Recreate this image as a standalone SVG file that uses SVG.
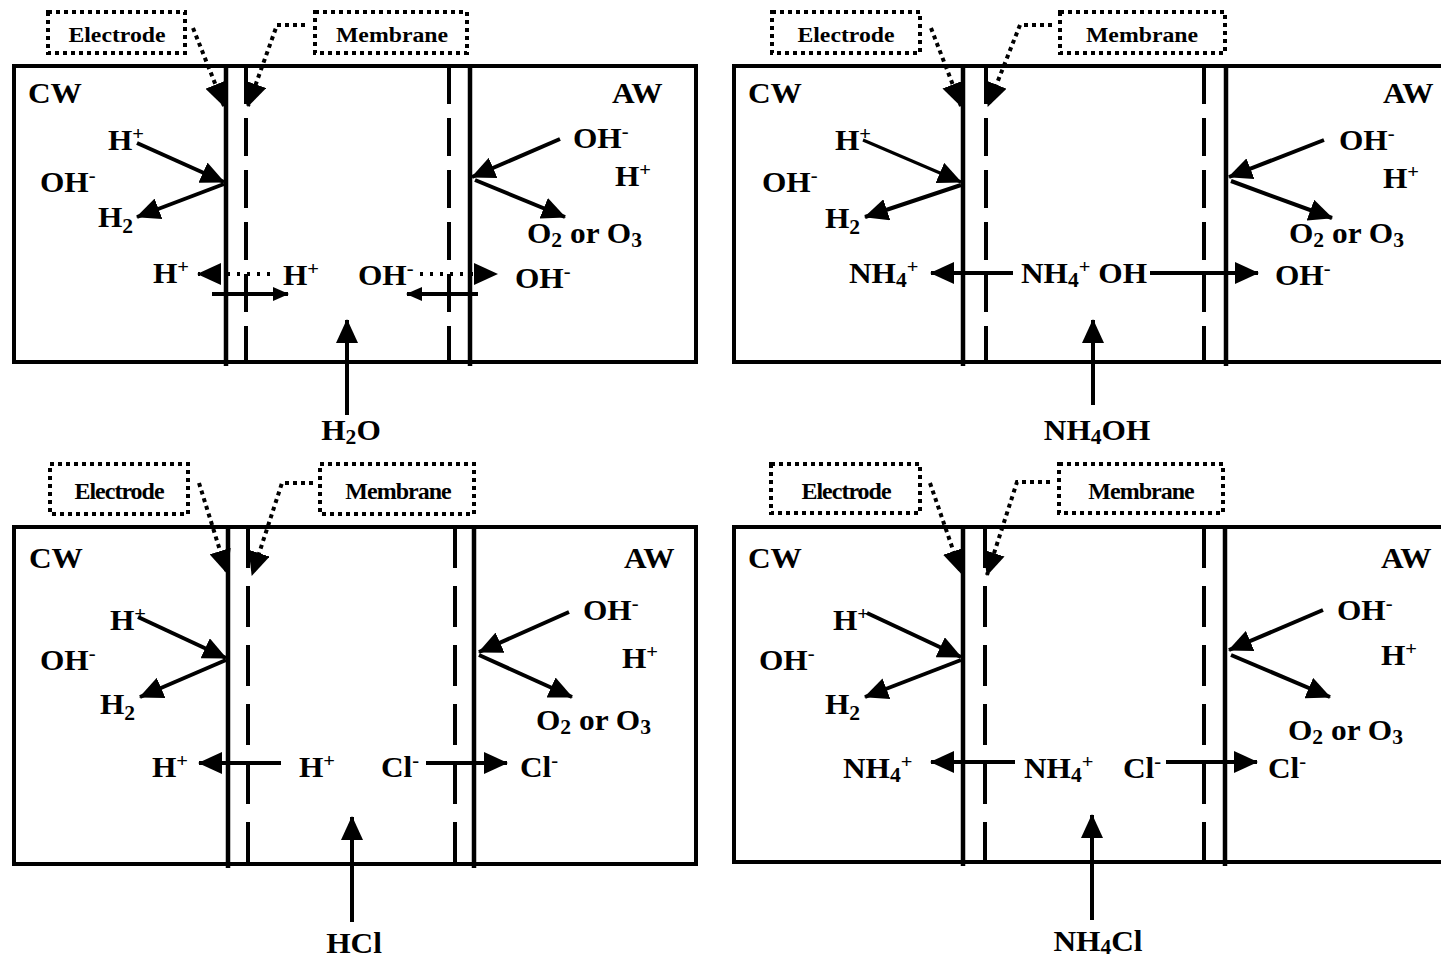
<svg xmlns="http://www.w3.org/2000/svg" width="1441" height="960" viewBox="0 0 1441 960">
<style>
.t{font-family:"Liberation Serif","Times New Roman",serif;font-weight:bold;font-size:29px;fill:#000}
.bx{font-size:22px}
.bx2{font-size:24px;letter-spacing:-1px}
.sp{font-size:19px}
.sb{font-size:20px}
.frame{fill:none;stroke:#000;stroke-width:4}
.el{stroke:#000;stroke-width:4.5}
.mt{stroke:#000;stroke-width:4;stroke-dasharray:38 14}
.mb{stroke:#000;stroke-width:4;stroke-dasharray:41 18}
.box{fill:#fff;stroke:#000;stroke-width:4;stroke-dasharray:4 4}
.ptr{fill:none;stroke:#000;stroke-width:4;stroke-dasharray:4 4;marker-end:url(#ah)}
.ar{fill:none;stroke:#000;stroke-width:4;marker-end:url(#ah)}
.thin{stroke-width:3}
.dot{fill:none;stroke:#000;stroke-width:4;stroke-dasharray:3 7;marker-end:url(#ah)}
.ars{fill:none;stroke:#000;stroke-width:4;marker-end:url(#as)}
</style>
<defs>
<marker id="ah" markerUnits="userSpaceOnUse" markerWidth="24" markerHeight="22" viewBox="0 0 24 22" refX="23" refY="11" orient="auto"><path d="M0,0 L24,11 L0,22 z" fill="#000"/></marker>
<marker id="as" markerUnits="userSpaceOnUse" markerWidth="16" markerHeight="14" viewBox="0 0 16 14" refX="15" refY="7" orient="auto"><path d="M0,0 L16,7 L0,14 z" fill="#000"/></marker>
</defs>
<rect width="1441" height="960" fill="#fff"/>

<!-- Panel 1: H2O -->
<g id="p1">
<g id="p1-cell">
<rect class="frame" x="14" y="66" width="682" height="296"/>
<line class="el" x1="226" y1="66" x2="226" y2="366"/>
<line class="mt" x1="246" y1="66" x2="246" y2="364"/>
<line class="mt" x1="449" y1="66" x2="449" y2="364"/>
<line class="el" x1="470" y1="66" x2="470" y2="366"/>
</g>
<g id="p1-electrode-box"><rect class="box" x="48" y="12" width="137" height="41"/><text class="t bx" text-anchor="middle" transform="translate(117 42) scale(1.08 1)">Electrode</text></g>
<g id="p1-membrane-box"><rect class="box" x="315" y="12" width="152" height="41"/><text class="t bx" text-anchor="middle" transform="translate(392 42) scale(1.08 1)">Membrane</text></g>
<g id="p1-labels">
<text class="t" transform="translate(28 103) scale(1.08 1)">CW</text>
<text class="t" transform="translate(612 103) scale(1.08 1)">AW</text>
<text class="t" transform="translate(108 150) scale(1.08 1)">H<tspan class="sp" dy="-10">+</tspan></text>
<text class="t" transform="translate(40 192) scale(1.08 1)">OH<tspan class="sp" dy="-10">-</tspan></text>
<text class="t" transform="translate(98 227) scale(1.08 1)">H<tspan class="sb" dy="6">2</tspan></text>
<text class="t" transform="translate(573 148) scale(1.08 1)">OH<tspan class="sp" dy="-10">-</tspan></text>
<text class="t" transform="translate(615 186) scale(1.08 1)">H<tspan class="sp" dy="-10">+</tspan></text>
<text class="t" transform="translate(527 243) scale(1.08 1)">O<tspan class="sb" dy="4">2</tspan><tspan dy="-4"> or O</tspan><tspan class="sb" dy="4">3</tspan></text>
<text class="t" transform="translate(153 283) scale(1.08 1)">H<tspan class="sp" dy="-10">+</tspan></text>
<text class="t" transform="translate(283 285) scale(1.08 1)">H<tspan class="sp" dy="-10">+</tspan></text>
<text class="t" transform="translate(358 285) scale(1.08 1)">OH<tspan class="sp" dy="-10">-</tspan></text>
<text class="t" transform="translate(515 288) scale(1.08 1)">OH<tspan class="sp" dy="-10">-</tspan></text>
<text class="t" text-anchor="middle" transform="translate(351 440) scale(1.08 1)">H<tspan class="sb" dy="4">2</tspan><tspan dy="-4">O</tspan></text>
</g>
<g id="p1-connectors">
<path class="ptr" d="M193,28 L224,106"/>
<path class="ptr" d="M305,25 L277,25 L248,106"/>
<path class="ar" d="M137,143 L224,182"/>
<path class="ar" d="M224,184 L137,217"/>
<path class="ar" d="M560,139 L472,177"/>
<path class="ar" d="M475,180 L565,217"/>
<path class="dot" d="M270,274 L198,274"/>
<path class="dot" d="M420,274 L497,274"/>
<path class="ars" d="M212,294 L288,294"/>
<path class="ars" d="M478,294 L407,294"/>
<path class="ar" d="M347,415 L347,320"/>
</g>
</g>

<!-- Panel 2: NH4OH -->
<g id="p2">
<g id="p2-cell">
<path class="frame" d="M1445,66 H734 V362 H1445"/>
<line class="el" x1="963" y1="66" x2="963" y2="366"/>
<line class="mt" x1="986" y1="66" x2="986" y2="364"/>
<line class="mt" x1="1204" y1="66" x2="1204" y2="364"/>
<line class="el" x1="1226" y1="66" x2="1226" y2="366"/>
</g>
<g id="p2-electrode-box"><rect class="box" x="772" y="12" width="148" height="41"/><text class="t bx" text-anchor="middle" transform="translate(846 42) scale(1.08 1)">Electrode</text></g>
<g id="p2-membrane-box"><rect class="box" x="1060" y="12" width="165" height="41"/><text class="t bx" text-anchor="middle" transform="translate(1142 42) scale(1.08 1)">Membrane</text></g>
<g id="p2-labels">
<text class="t" transform="translate(748 103) scale(1.08 1)">CW</text>
<text class="t" transform="translate(1383 103) scale(1.08 1)">AW</text>
<text class="t" transform="translate(835 150) scale(1.08 1)">H<tspan class="sp" dy="-10">+</tspan></text>
<text class="t" transform="translate(762 192) scale(1.08 1)">OH<tspan class="sp" dy="-10">-</tspan></text>
<text class="t" transform="translate(825 228) scale(1.08 1)">H<tspan class="sb" dy="6">2</tspan></text>
<text class="t" transform="translate(1339 150) scale(1.08 1)">OH<tspan class="sp" dy="-10">-</tspan></text>
<text class="t" transform="translate(1383 188) scale(1.08 1)">H<tspan class="sp" dy="-10">+</tspan></text>
<text class="t" transform="translate(1289 243) scale(1.08 1)">O<tspan class="sb" dy="4">2</tspan><tspan dy="-4"> or O</tspan><tspan class="sb" dy="4">3</tspan></text>
<text class="t" transform="translate(849 283) scale(1.08 1)">NH<tspan class="sb" dy="4">4</tspan><tspan class="sp" dy="-14">+</tspan></text>
<text class="t" transform="translate(1021 283) scale(1.08 1)">NH<tspan class="sb" dy="4">4</tspan><tspan class="sp" dy="-14">+</tspan><tspan dy="10"> OH</tspan></text>
<text class="t" transform="translate(1275 285) scale(1.08 1)">OH<tspan class="sp" dy="-10">-</tspan></text>
<text class="t" text-anchor="middle" transform="translate(1097 440) scale(1.08 1)">NH<tspan class="sb" dy="4">4</tspan><tspan dy="-4">OH</tspan></text>
</g>
<g id="p2-connectors">
<path class="ptr" d="M931,28 L961,106"/>
<path class="ptr" d="M1052,25 L1020,25 L988,106"/>
<path class="ar thin" d="M863,140 L961,182"/>
<path class="ar" d="M961,185 L865,217"/>
<path class="ar" d="M1324,140 L1229,177"/>
<path class="ar" d="M1231,181 L1332,218"/>
<path class="ar" d="M1013,273 L931,273"/>
<path class="ar" d="M1150,273 L1258,273"/>
<path class="ar" d="M1093,405 L1093,320"/>
</g>
</g>

<!-- Panel 3: HCl -->
<g id="p3">
<g id="p3-cell">
<rect class="frame" x="14" y="527" width="682" height="337"/>
<line class="el" x1="228" y1="527" x2="228" y2="868"/>
<line class="mb" x1="248" y1="527" x2="248" y2="864"/>
<line class="mb" x1="455" y1="527" x2="455" y2="864"/>
<line class="el" x1="474" y1="527" x2="474" y2="868"/>
</g>
<g id="p3-electrode-box"><rect class="box" x="50" y="464" width="138" height="50"/><text class="t bx2" text-anchor="middle" transform="translate(119 499)">Electrode</text></g>
<g id="p3-membrane-box"><rect class="box" x="320" y="464" width="154" height="50"/><text class="t bx2" text-anchor="middle" transform="translate(398 499)">Membrane</text></g>
<g id="p3-labels">
<text class="t" transform="translate(29 568) scale(1.08 1)">CW</text>
<text class="t" transform="translate(624 568) scale(1.08 1)">AW</text>
<text class="t" transform="translate(110 630) scale(1.08 1)">H<tspan class="sp" dy="-10">+</tspan></text>
<text class="t" transform="translate(40 670) scale(1.08 1)">OH<tspan class="sp" dy="-10">-</tspan></text>
<text class="t" transform="translate(100 714) scale(1.08 1)">H<tspan class="sb" dy="6">2</tspan></text>
<text class="t" transform="translate(583 620) scale(1.08 1)">OH<tspan class="sp" dy="-10">-</tspan></text>
<text class="t" transform="translate(622 668) scale(1.08 1)">H<tspan class="sp" dy="-10">+</tspan></text>
<text class="t" transform="translate(536 730) scale(1.08 1)">O<tspan class="sb" dy="4">2</tspan><tspan dy="-4"> or O</tspan><tspan class="sb" dy="4">3</tspan></text>
<text class="t" transform="translate(152 777) scale(1.08 1)">H<tspan class="sp" dy="-10">+</tspan></text>
<text class="t" transform="translate(299 777) scale(1.08 1)">H<tspan class="sp" dy="-10">+</tspan></text>
<text class="t" transform="translate(381 777) scale(1.08 1)">Cl<tspan class="sp" dy="-10">-</tspan></text>
<text class="t" transform="translate(520 777) scale(1.08 1)">Cl<tspan class="sp" dy="-10">-</tspan></text>
<text class="t" text-anchor="middle" transform="translate(354 953) scale(1.08 1)">HCl</text>
</g>
<g id="p3-connectors">
<path class="ptr" d="M199,483 L227,573"/>
<path class="ptr" d="M313,483 L282,483 L252,575"/>
<path class="ar" d="M138,617 L226,658"/>
<path class="ar" d="M226,660 L140,697"/>
<path class="ar" d="M569,612 L479,652"/>
<path class="ar" d="M479,655 L572,697"/>
<path class="ar" d="M281,763 L199,763"/>
<path class="ar" d="M426,763 L507,763"/>
<path class="ar" d="M352,922 L352,817"/>
</g>
</g>

<!-- Panel 4: NH4Cl -->
<g id="p4">
<g id="p4-cell">
<path class="frame" d="M1445,527 H734 V862 H1445"/>
<line class="el" x1="963" y1="527" x2="963" y2="866"/>
<line class="mb" x1="985" y1="527" x2="985" y2="862"/>
<line class="mb" x1="1204" y1="527" x2="1204" y2="862"/>
<line class="el" x1="1225" y1="527" x2="1225" y2="866"/>
</g>
<g id="p4-electrode-box"><rect class="box" x="771" y="464" width="149" height="49"/><text class="t bx2" text-anchor="middle" transform="translate(846 499)">Electrode</text></g>
<g id="p4-membrane-box"><rect class="box" x="1059" y="464" width="164" height="49"/><text class="t bx2" text-anchor="middle" transform="translate(1141 499)">Membrane</text></g>
<g id="p4-labels">
<text class="t" transform="translate(748 568) scale(1.08 1)">CW</text>
<text class="t" transform="translate(1381 568) scale(1.08 1)">AW</text>
<text class="t" transform="translate(833 630) scale(1.08 1)">H<tspan class="sp" dy="-10">+</tspan></text>
<text class="t" transform="translate(759 670) scale(1.08 1)">OH<tspan class="sp" dy="-10">-</tspan></text>
<text class="t" transform="translate(825 714) scale(1.08 1)">H<tspan class="sb" dy="6">2</tspan></text>
<text class="t" transform="translate(1337 620) scale(1.08 1)">OH<tspan class="sp" dy="-10">-</tspan></text>
<text class="t" transform="translate(1381 665) scale(1.08 1)">H<tspan class="sp" dy="-10">+</tspan></text>
<text class="t" transform="translate(1288 740) scale(1.08 1)">O<tspan class="sb" dy="4">2</tspan><tspan dy="-4"> or O</tspan><tspan class="sb" dy="4">3</tspan></text>
<text class="t" transform="translate(843 778) scale(1.08 1)">NH<tspan class="sb" dy="4">4</tspan><tspan class="sp" dy="-14">+</tspan></text>
<text class="t" transform="translate(1024 778) scale(1.08 1)">NH<tspan class="sb" dy="4">4</tspan><tspan class="sp" dy="-14">+</tspan></text>
<text class="t" transform="translate(1123 778) scale(1.08 1)">Cl<tspan class="sp" dy="-10">-</tspan></text>
<text class="t" transform="translate(1268 778) scale(1.08 1)">Cl<tspan class="sp" dy="-10">-</tspan></text>
<text class="t" text-anchor="middle" transform="translate(1098 951) scale(1.08 1)">NH<tspan class="sb" dy="3">4</tspan><tspan dy="-3">Cl</tspan></text>
</g>
<g id="p4-connectors">
<path class="ptr" d="M930,483 L961,573"/>
<path class="ptr" d="M1050,482 L1017,482 L987,575"/>
<path class="ar" d="M867,613 L961,657"/>
<path class="ar" d="M961,660 L865,697"/>
<path class="ar" d="M1323,610 L1229,650"/>
<path class="ar" d="M1231,655 L1330,697"/>
<path class="ar" d="M1015,762 L931,762"/>
<path class="ar" d="M1166,762 L1257,762"/>
<path class="ar" d="M1092,920 L1092,815"/>
</g>
</g>
</svg>
